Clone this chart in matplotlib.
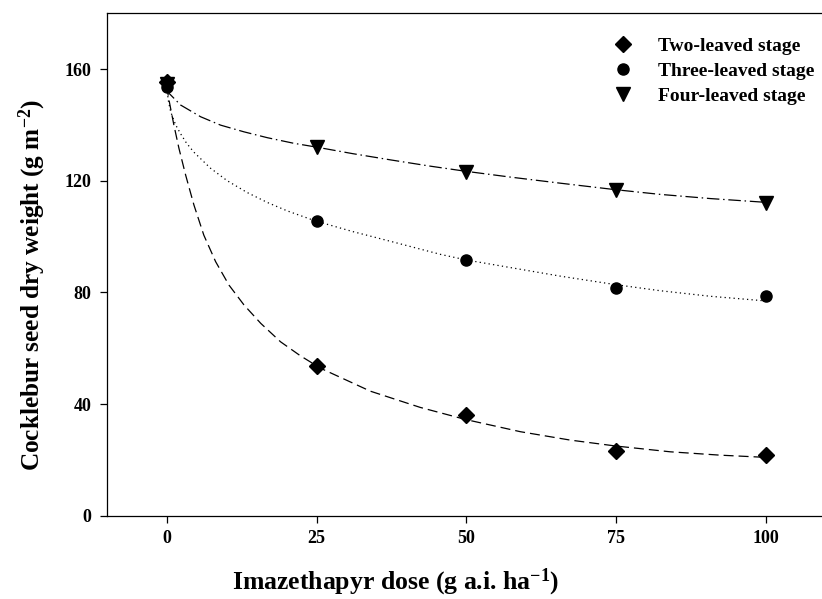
import numpy as np
import matplotlib
matplotlib.use("Agg")
import matplotlib.pyplot as plt

plt.rcParams['font.family'] = ['Liberation Serif', 'DejaVu Serif']
plt.rcParams['font.weight'] = 'bold'
plt.rcParams['mathtext.fontset'] = 'custom'
plt.rcParams['mathtext.rm'] = 'Liberation Serif:bold'
plt.rcParams['mathtext.bf'] = 'Liberation Serif:bold'
plt.rcParams['mathtext.it'] = 'Liberation Serif:bold'

# observed means
dose = [0, 25, 50, 75, 100]
two_leaf = [155.4, 53.6, 36.1, 23.3, 21.7]
three_leaf = [153.5, 105.6, 91.6, 81.4, 78.7]
four_leaf = [154.5, 132.1, 123.2, 116.6, 111.9]

# fitted curves
two_fit_x = [0, 0.4, 1.2, 2.05, 3.17, 4.55, 6.2, 8.17, 10.4, 12.9, 15.7, 19, 22.3, 25.7, 34, 42.3, 49.8, 59, 67.3, 74.8, 84, 92.3, 100]
two_fit_y = [154, 148.8, 140, 131.6, 122, 111.3, 100.5, 91, 82.6, 75.5, 68.9, 62.3, 57.3, 52.8, 44.6, 38.8, 34.5, 30.1, 27.1, 25.0, 22.9, 21.7, 20.9]

three_fit_x = [0, 0.3, 0.67, 1.5, 2.33, 3.3, 4.55, 7.3, 10.1, 13.4, 16.8, 20.1, 24.8, 31, 37.5, 45.7, 50, 57.3, 65.7, 74.8, 82.3, 90.7, 99.6]
three_fit_y = [153.5, 148.5, 144.7, 140, 136.8, 133.5, 130.2, 124.5, 120, 115.8, 112.2, 109.2, 105.6, 101.8, 98.2, 93.6, 91.6, 88.9, 85.8, 82.8, 80.6, 78.6, 77.0]

four_fit_x = [0, 0.4, 2.33, 5.67, 9, 12.9, 16.8, 21.2, 24.8, 31, 37.5, 44, 49.8, 57.3, 65.7, 74.8, 82.3, 90.7, 99.6]
four_fit_y = [153, 151.3, 147.1, 142.9, 139.9, 137.5, 135.4, 133.4, 132.1, 129.7, 127.4, 125.2, 123.4, 121.3, 119.1, 116.8, 115.1, 113.6, 112.3]

fig = plt.figure(figsize=(8.22, 5.99), dpi=100)
ax = fig.add_axes([0.1298, 0.139, 1.005 - 0.1298, 0.978 - 0.139])

ax.plot(two_fit_x, two_fit_y, color='black', lw=0.9, dashes=(8, 4))
ax.plot(three_fit_x, three_fit_y, color='black', lw=0.9, dashes=(1, 2.6))
ax.plot(four_fit_x, four_fit_y, color='black', lw=0.9, dashes=(10, 3, 1.2, 3))

ax.plot(dose, three_leaf, 'o', color='black', ms=8, label='Three-leaved stage', zorder=3)
ax.plot(dose, four_leaf, 'v', color='black', ms=10, label='Four-leaved stage', zorder=3)
ax.plot(dose, two_leaf, 'D', color='black', ms=8, label='Two-leaved stage', zorder=4)

h, l = ax.get_legend_handles_labels()
order = [2, 0, 1]
ax.legend([h[i] for i in order], [l[i] for i in order], loc='upper left',
          bbox_to_anchor=(586 / 822, 1 - 20 / 599), bbox_transform=fig.transFigure,
          frameon=False, handlelength=2.0, handletextpad=0.8, labelspacing=0.38,
          borderpad=0.4, prop={'weight': 'bold', 'size': 14})

ax.set_xlim(-10, 110)
ax.set_ylim(0, 180)
ax.set_xticks([0, 25, 50, 75, 100])
ax.set_yticks([0, 40, 80, 120, 160])
ax.tick_params(direction='out', length=5, width=0.9, labelsize=13)
ax.tick_params(axis='y', pad=6)
ax.tick_params(axis='x', pad=5)
for lab in ax.get_xticklabels() + ax.get_yticklabels():
    lab.set_fontweight('bold')
for s in ax.spines.values():
    s.set_linewidth(0.9)

fig.text(396 / 822, 9.5 / 599, r'Imazethapyr dose (g a.i. ha$^{\mathbf{-1}}$)',
         fontsize=18.5, fontweight='bold', ha='center', va='baseline')
fig.text(32 / 822, 1 - 285 / 599, r'Cocklebur seed dry weight (g m$^{\mathbf{-2}}$)',
         fontsize=18.2, fontweight='bold', ha='center', va='center', rotation=90)

fig.savefig('out.png', dpi=100)
